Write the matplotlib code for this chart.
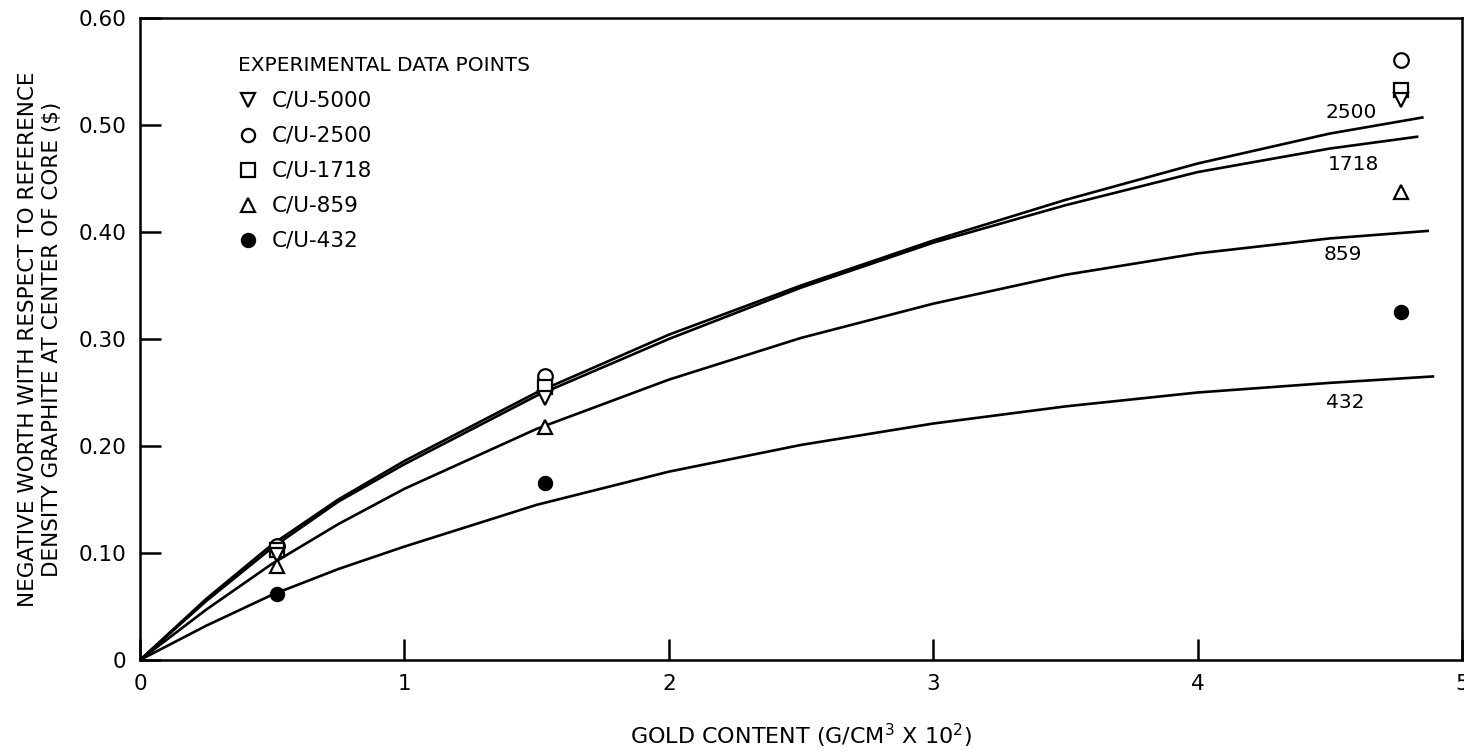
import matplotlib
matplotlib.use('Agg')
import numpy as np
import matplotlib.pyplot as plt

# fitted curves
curve_x_2500 = [0, 0.25, 0.5, 0.75, 1.0, 1.5, 2.0, 2.5, 3.0, 3.5, 4.0, 4.5, 4.85]
curve_y_2500 = [0, 0.057, 0.108, 0.150, 0.186, 0.250, 0.304, 0.350, 0.392, 0.430, 0.464, 0.492, 0.507]
curve_x_1718 = [0, 0.25, 0.5, 0.75, 1.0, 1.5, 2.0, 2.5, 3.0, 3.5, 4.0, 4.5, 4.83]
curve_y_1718 = [0, 0.055, 0.105, 0.148, 0.183, 0.247, 0.300, 0.348, 0.390, 0.425, 0.456, 0.478, 0.489]
curve_x_859 = [0, 0.25, 0.5, 0.75, 1.0, 1.5, 2.0, 2.5, 3.0, 3.5, 4.0, 4.5, 4.87]
curve_y_859 = [0, 0.047, 0.090, 0.127, 0.160, 0.216, 0.262, 0.301, 0.333, 0.360, 0.380, 0.394, 0.401]
curve_x_432 = [0, 0.25, 0.5, 0.75, 1.0, 1.5, 2.0, 2.5, 3.0, 3.5, 4.0, 4.5, 4.89]
curve_y_432 = [0, 0.032, 0.061, 0.085, 0.106, 0.145, 0.176, 0.201, 0.221, 0.237, 0.250, 0.259, 0.265]

curve_names = ['2500', '1718', '859', '432']
curve_label_x = [4.58, 4.59, 4.55, 4.56]
curve_label_y = [0.512, 0.463, 0.379, 0.241]

# experimental data points
gold = [0.52, 1.53, 4.77]
pts_5000 = [0.098, 0.245, 0.523]
pts_2500 = [0.107, 0.265, 0.561]
pts_1718 = [0.103, 0.255, 0.533]
pts_859 = [0.088, 0.218, 0.437]
pts_432 = [0.062, 0.165, 0.325]

legend_names = ['C/U-5000', 'C/U-2500', 'C/U-1718', 'C/U-859', 'C/U-432']

x_ticks = [0, 1, 2, 3, 4, 5]
y_ticks = [0, 0.1, 0.2, 0.3, 0.4, 0.5, 0.6]
y_ticklabels = ['0', '0.10', '0.20', '0.30', '0.40', '0.50', '0.60']

plt.rcParams['font.family'] = ['DejaVu Sans']

fig = plt.figure(figsize=(14.64, 7.54), dpi=100, facecolor='white')
ax = fig.add_axes([140/1464, 94/754, 1322/1464, 642/754])

lw = 1.9
ax.plot(curve_x_2500, curve_y_2500, color='k', lw=lw)
ax.plot(curve_x_1718, curve_y_1718, color='k', lw=lw)
ax.plot(curve_x_859, curve_y_859, color='k', lw=lw)
ax.plot(curve_x_432, curve_y_432, color='k', lw=lw)

for name, lx, ly in zip(curve_names, curve_label_x, curve_label_y):
    ax.text(lx, ly, name, fontsize=14.5, ha='center', va='center')

ms = 10.5
mew = 1.6
ax.plot(gold, pts_2500, 'o', ms=ms, mfc='white', mec='k', mew=mew)
ax.plot(gold, pts_1718, 's', ms=ms - 1, mfc='white', mec='k', mew=mew)
ax.plot(gold, pts_5000, 'v', ms=ms, mfc='white', mec='k', mew=mew)
ax.plot(gold, pts_859, '^', ms=ms, mfc='white', mec='k', mew=mew)
ax.plot(gold, pts_432, 'o', ms=ms - 1, mfc='k', mec='k', mew=mew)

# hand-drawn style legend
ax.text(0.37, 0.556, 'EXPERIMENTAL DATA POINTS', fontsize=14.5, ha='left', va='center')
leg_markers = [('v', 'white'), ('o', 'white'), ('s', 'white'), ('^', 'white'), ('o', 'k')]
for i, (name, (mk, fc)) in enumerate(zip(legend_names, leg_markers)):
    ly = 0.523 - i * 0.0327
    ax.plot([0.408], [ly], mk, ms=ms - 1, mfc=fc, mec='k', mew=mew)
    ax.text(0.50, ly, name, fontsize=15.5, ha='left', va='center')

ax.set_xlim(0, 5)
ax.set_ylim(0, 0.6)
ax.set_xticks(x_ticks)
ax.set_xticklabels([str(t) for t in x_ticks])
ax.set_yticks(y_ticks)
ax.set_yticklabels(y_ticklabels)
ax.tick_params(direction='in', length=15, width=1.8, labelsize=15.5, pad=10)
for s in ax.spines.values():
    s.set_linewidth(1.8)

ax.set_xlabel('GOLD CONTENT (G/CM$^3$ X 10$^2$)', fontsize=16, labelpad=20)
ax.set_ylabel('NEGATIVE WORTH WITH RESPECT TO REFERENCE\nDENSITY GRAPHITE AT CENTER OF CORE ($)',
              fontsize=15.5, labelpad=12, linespacing=1.2)

plt.savefig('out.png', dpi=100)
